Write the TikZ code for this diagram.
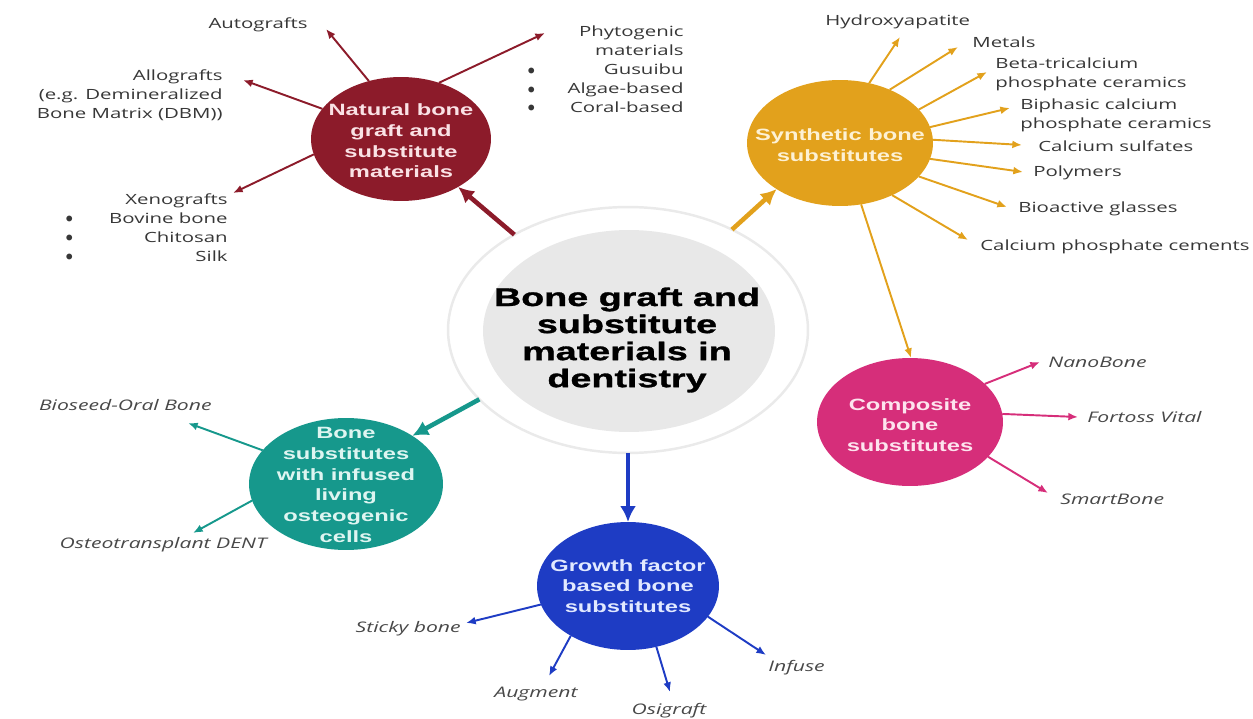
\documentclass[tikz,border=0pt]{standalone}
\usepackage{fontspec}
\setmainfont{Open Sans}[FakeStretch=1.45]
\newfontfamily\bubfont{Liberation Sans}[FakeStretch=1.45]
\newfontfamily\hubfont{Liberation Sans}[FakeStretch=1.48, FakeBold=1.2]
\usepackage{xcolor}
\usepackage{array}
\usepackage{tikz}
\usetikzlibrary{shapes.geometric, arrows.meta}

\definecolor{natred}{RGB}{140,27,42}
\definecolor{synthgold}{RGB}{226,161,28}
\definecolor{compink}{RGB}{214,46,122}
\definecolor{livteal}{RGB}{22,152,140}
\definecolor{growblue}{RGB}{30,60,196}
\definecolor{hubgray}{RGB}{232,232,232}
\definecolor{hubring}{RGB}{234,234,234}
\definecolor{lblgray}{RGB}{55,55,55}
\definecolor{prodgray}{RGB}{72,72,72}
\definecolor{natfg}{RGB}{250,226,229}
\definecolor{synthfg}{RGB}{253,241,212}
\definecolor{compfg}{RGB}{253,228,238}
\definecolor{livfg}{RGB}{222,245,241}
\definecolor{growfg}{RGB}{226,233,255}

% list bullet, a bit heavier than \textbullet
\newcommand{\blt}{\raisebox{0.1ex}{$\bullet$}}

\tikzset{
  bub/.style={ellipse, fill=#1, draw=none, inner sep=0pt, outer sep=0pt},
  bubtxt/.style={font=\bubfont\bfseries\fontsize{9.3}{11.8}\selectfont, align=center, inner sep=0pt, text=#1},
  twig/.style={draw=#1, line width=1.1pt, -{Latex[length=5.5pt,width=4.5pt]}},
  limb/.style={draw=#1, line width=2.6pt, -{Latex[length=9pt,width=9pt]}},
  lbl/.style={font=\fontsize{8}{10.8}\selectfont, text=lblgray, inner sep=0pt},
  prod/.style={font=\itshape\fontsize{8.3}{10.8}\selectfont, text=prodgray, inner sep=0pt},
}

\begin{document}
\begin{tikzpicture}[x=0.02cm, y=-0.02cm]
    \useasboundingbox (0,0) rectangle (1253,719);

    % Hub
    \node[ellipse, fill=white, draw=hubring, line width=1.4pt, minimum width=7.2cm, minimum height=4.92cm, inner sep=0pt, outer sep=0pt] (hub) at (628,330) {};
    \node[bub=hubgray, minimum width=5.84cm, minimum height=4.04cm] (hub-in) at (629,331) {};
    \node[font=\hubfont\bfseries\fontsize{14.5}{15.4}\selectfont, align=center, inner sep=0pt] (hub-t) at (627,340) {Bone graft and\\substitute\\materials in\\dentistry};

    % Natural bone graft and substitute materials
    \node[bub=natred, minimum width=3.6cm, minimum height=2.48cm] (natural) at (401,139) {};
    \node[bubtxt=natfg] (natural-t) at (401,141) {Natural bone\\graft and\\substitute\\materials};
    \draw[limb=natred] (hub.140) -- (natural.320);

    \coordinate (auto-tip) at (326,29);
    \draw[twig=natred] (natural.119) -- (auto-tip);
    \node[lbl, anchor=east] (auto) at (308,25) {Autografts};

    \coordinate (allo-tip) at (243,80);
    \draw[twig=natred] (natural.159) -- (allo-tip);
    \node[lbl, anchor=east, align=right] (allo) at (223,95) {Allografts\\(e.g. Demineralized\\Bone Matrix (DBM))};

    \coordinate (xeno-tip) at (233,193);
    \draw[twig=natred] (natural.190) -- (xeno-tip);
    \node[lbl, anchor=east] (xeno) at (228,229) {\begin{tabular}{@{}p{0.3cm}@{}>{\raggedleft\arraybackslash}p{2.94cm}@{}}
        \multicolumn{2}{@{}r@{}}{Xenografts}\\
        \blt & Bovine bone\\
        \blt & Chitosan\\
        \blt & Silk
    \end{tabular}};

    \coordinate (phyto-tip) at (545,33);
    \draw[twig=natred] (natural.56) -- (phyto-tip);
    \node[lbl, anchor=east] (phyto) at (684,71) {\begin{tabular}{@{}p{0.3cm}@{}>{\raggedleft\arraybackslash}p{2.82cm}@{}}
        \multicolumn{2}{@{}r@{}}{Phytogenic\hspace{0.1cm}}\\
        \multicolumn{2}{@{}r@{}}{materials}\\
        \blt & Gusuibu\hspace{0.1cm}\\
        \blt & Algae-based\\
        \blt & Coral-based
    \end{tabular}};

    % Synthetic bone substitutes
    \node[bub=synthgold, minimum width=3.72cm, minimum height=2.52cm] (synth) at (840,143) {};
    \node[bubtxt=synthfg] (synth-t) at (840,145) {Synthetic bone\\substitutes};
    \draw[limb=synthgold] (hub.44) -- (synth.216);

    \coordinate (hyd-tip) at (900,37);
    \draw[twig=synthgold] (synth.64) -- (hyd-tip);
    \node[lbl, anchor=west] (hyd) at (825,22) {Hydroxyapatite};

    \coordinate (met-tip) at (958,47);
    \draw[twig=synthgold] (synth.47) -- (met-tip);
    \node[lbl, anchor=west] (met) at (972,42) {Metals};

    \coordinate (btcp-tip) at (987,72);
    \draw[twig=synthgold] (synth.23) -- (btcp-tip);
    \node[lbl, anchor=west, align=left] (btcp) at (995,74) {Beta-tricalcium\\phosphate ceramics};

    \coordinate (bcp-tip) at (1010,108);
    \draw[twig=synthgold] (synth.10) -- (bcp-tip);
    \node[lbl, anchor=west, align=left] (bcp) at (1020,115) {Biphasic calcium\\phosphate ceramics};

    \coordinate (cs-tip) at (1022,145);
    \draw[twig=synthgold] (synth.2) -- (cs-tip);
    \node[lbl, anchor=west] (cs) at (1038,146) {Calcium sulfates};

    \coordinate (poly-tip) at (1023,172);
    \draw[twig=synthgold] (synth.-10) -- (poly-tip);
    \node[lbl, anchor=west] (poly) at (1033,173) {Polymers};

    \coordinate (bag-tip) at (1007,207);
    \draw[twig=synthgold] (synth.-23) -- (bag-tip);
    \node[lbl, anchor=west] (bag) at (1018,209) {Bioactive glasses};

    \coordinate (cpc-tip) at (968,240);
    \draw[twig=synthgold] (synth.-45) -- (cpc-tip);
    \node[lbl, anchor=west] (cpc) at (980,247) {Calcium phosphate cements};

    % Composite bone substitutes
    \node[bub=compink, minimum width=3.72cm, minimum height=2.56cm] (compo) at (910,422) {};
    \node[bubtxt=compfg] (compo-t) at (910,425) {Composite\\bone\\substitutes};
    \draw[twig=synthgold] (synth.-71) -- (compo.89);

    \coordinate (nano-tip) at (1040,362);
    \draw[twig=compink] (compo.27) -- (nano-tip);
    \node[prod, anchor=west] (nano) at (1048,362) {NanoBone};

    \coordinate (fort-tip) at (1078,417);
    \draw[twig=compink] (compo.5) -- (fort-tip);
    \node[prod, anchor=west] (fort) at (1087,417) {Fortoss Vital};

    \coordinate (smart-tip) at (1048,493);
    \draw[twig=compink] (compo.-24) -- (smart-tip);
    \node[prod, anchor=west] (smart) at (1060,499) {SmartBone};

    % Bone substitutes with living cells
    \node[bub=livteal, minimum width=3.88cm, minimum height=2.64cm] (living) at (346,484) {};
    \node[bubtxt=livfg] (living-t) at (346,485) {Bone\\substitutes\\with infused\\living\\osteogenic\\cells};
    \draw[limb=livteal] (hub.205) -- (living.36);

    \coordinate (bio-tip) at (188,423);
    \draw[twig=livteal] (living.158) -- (bio-tip);
    \node[prod, anchor=east] (bio) at (212,405) {Bioseed-Oral Bone};

    \coordinate (ost-tip) at (193,533);
    \draw[twig=livteal] (living.190) -- (ost-tip);
    \node[prod, anchor=east] (ost) at (267,545) {Osteotransplant DENT};

    % Growth factor based bone substitutes
    \node[bub=growblue, minimum width=3.64cm, minimum height=2.56cm] (growth) at (628,586) {};
    \node[bubtxt=growfg] (growth-t) at (628,586) {Growth factor\\based bone\\substitutes};
    \draw[limb=growblue] (hub.south) -- (growth.north);

    \coordinate (sticky-tip) at (466,623);
    \draw[twig=growblue] (growth.192) -- (sticky-tip);
    \node[prod, anchor=east] (sticky) at (461,629) {Sticky bone};

    \coordinate (aug-tip) at (549,676);
    \draw[twig=growblue] (growth.221) -- (aug-tip);
    \node[prod] (aug) at (536,694) {Augment};

    \coordinate (osi-tip) at (670,692);
    \draw[twig=growblue] (growth.-65) -- (osi-tip);
    \node[prod] (osi) at (669,711) {Osigraft};

    \coordinate (inf-tip) at (766,655);
    \draw[twig=growblue] (growth.-21) -- (inf-tip);
    \node[prod, anchor=west] (inf) at (768,668) {Infuse};
\end{tikzpicture}
\end{document}
